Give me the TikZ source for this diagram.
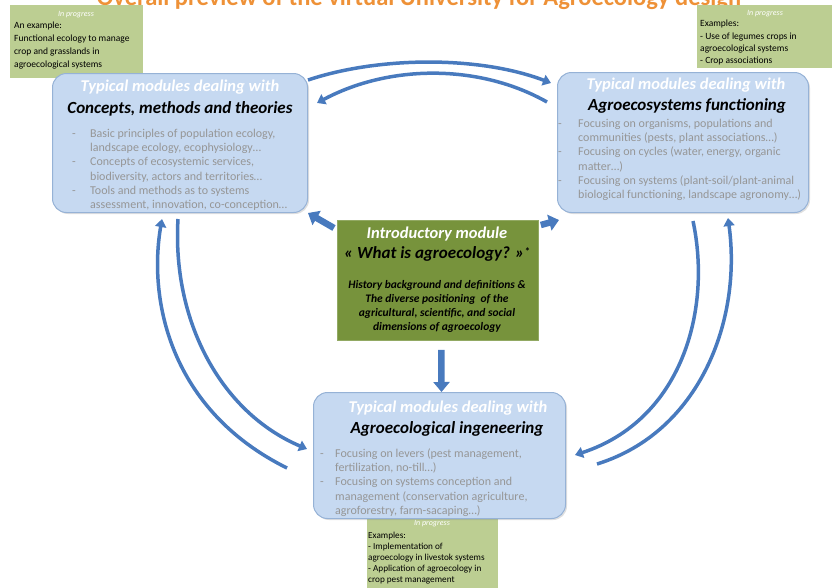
\documentclass[tikz,border=0pt]{standalone}
\usepackage{fontspec}
\setmainfont{Carlito}
\usetikzlibrary{arrows.meta,shadows}
\definecolor{boxblue}{RGB}{198,217,241}
\definecolor{boxblueedge}{RGB}{150,178,214}
\definecolor{lightgreen}{RGB}{188,206,146}
\definecolor{darkgreen}{RGB}{119,147,60}
\definecolor{arrowblue}{RGB}{72,122,190}
\definecolor{titleorange}{RGB}{238,145,55}
\definecolor{bulletgray}{RGB}{150,150,150}
\begin{document}
\begin{tikzpicture}[x=1pt,y=-1pt,
  bluebox/.style={draw=boxblueedge, fill=boxblue, rounded corners=14pt, line width=1pt,
    inner sep=0pt, anchor=north west,
    drop shadow={shadow xshift=1.5pt,shadow yshift=-1.5pt,opacity=0.25}},
  greenbox/.style={fill=lightgreen, inner sep=0pt, anchor=north west},
  centerbox/.style={fill=darkgreen, draw=darkgreen!80!white, line width=0.8pt, inner sep=0pt, anchor=north west},
  headw/.style={text=white, font=\fontsize{16.5}{19}\selectfont\bfseries\itshape, inner sep=0pt},
  headb/.style={text=black, font=\fontsize{17}{20}\selectfont\bfseries\itshape, inner sep=0pt},
  bullets/.style={inner sep=0pt, anchor=north west, text=bulletgray, font=\fontsize{12}{14.3}\selectfont},
  progress/.style={text=white, font=\fontsize{8}{9}\selectfont\itshape, inner sep=0pt},
  gtext/.style={inner sep=0pt, anchor=north west, align=left, text=black},
  curvarrow/.style={draw=arrowblue, line width=3.5pt, -{Triangle[width=11pt,length=8pt]}},
  blockarrow/.style={draw=arrowblue, line width=6.5pt, -{Triangle[width=16pt,length=10pt]}}
]
\clip (0,0) rectangle (833,587);
\useasboundingbox (0,0) rectangle (833,587);

% title (cut at top, as in the reference)
\node[anchor=base, text=titleorange, font=\fontsize{24.5}{28}\selectfont\bfseries, inner sep=0pt] (title) at (419,5)
  {Overall preview of the virtual University for Agroecology design};

% green "in progress" boxes
\node[greenbox, minimum width=133pt, minimum height=73pt] (GL) at (10,5) {};
\node[progress] (GLp) at (76,15) {In progress};
\node[gtext, font=\fontsize{9.5}{13}\selectfont] (GLt) at (14,22)
  {An example:\\Functional ecology to manage\\crop and grasslands in\\agroecological systems};

\node[greenbox, minimum width=135pt, minimum height=63pt] (GR) at (697,5) {};
\node[progress] (GRp) at (765,14) {In progress};
\node[gtext, font=\fontsize{9.5}{12.4}\selectfont] (GRt) at (700,20)
  {Examples:\\- Use of legumes crops in\\agroecological systems\\- Crop associations};

\node[greenbox, minimum width=131pt, minimum height=82pt] (GB) at (367,508) {};
\node[progress] (GBp) at (432,524) {In progress};
\node[gtext, font=\fontsize{9.2}{11}\selectfont] (GBt) at (368,532)
  {Examples:\\- Implementation of\\agroecology in livestok systems\\- Application of agroecology in\\crop pest management};

% named end points of the curved arrows
\coordinate (t1s) at (308,80);  \coordinate (t1e) at (551,83);
\coordinate (t2s) at (547,102); \coordinate (t2e) at (317,103);
\coordinate (l1s) at (287,468); \coordinate (l1e) at (162,219);
\coordinate (l2s) at (178,219); \coordinate (l2e) at (307,449);
\coordinate (r1s) at (693,221); \coordinate (r1e) at (575,455);
\coordinate (r2s) at (597,464); \coordinate (r2e) at (728,218);

\draw[curvarrow] (t1s) .. controls (380,56) and (480,56) .. (t1e);
\draw[curvarrow] (t2s) .. controls (480,64) and (390,64) .. (t2e);
\draw[curvarrow] (l1s) .. controls (170,410) and (148,300) .. (l1e);
\draw[curvarrow] (l2s) .. controls (172,320) and (220,412) .. (l2e);
\draw[curvarrow] (r1s) .. controls (712,310) and (682,420) .. (r1e);
\draw[curvarrow] (r2s) .. controls (700,432) and (742,320) .. (r2e);

% blue module boxes
\node[bluebox, minimum width=255pt, minimum height=139pt] (L) at (52,73) {};
\node[bluebox, minimum width=251pt, minimum height=140pt] (R) at (557,72) {};
\node[bluebox, minimum width=252pt, minimum height=126pt] (B) at (313,392) {};

\node[headw] (Lh1) at (180,87) {Typical modules dealing with};
\node[headb] (Lh2) at (180,109) {Concepts, methods and theories};
\node[bullets] (Lb) at (72,127) {\begin{tabular}{@{}p{18pt}@{}l@{}}
- & Basic principles of population ecology,\\
  & landscape ecology, ecophysiology\dots\\
- & Concepts of ecosystemic services,\\
  & biodiversity, actors and territories\dots\\
- & Tools and methods as to systems\\
  & assessment, innovation, co-conception\dots
\end{tabular}};

\node[headw] (Rh1) at (686,85) {Typical modules dealing with};
\node[headb] (Rh2) at (687,106) {Agroecosystems functioning};
\node[bullets] (Rb) at (558,117) {\begin{tabular}{@{}p{20pt}@{}l@{}}
- & Focusing on organisms, populations and\\
  & communities (pests, plant associations\dots)\\
- & Focusing on cycles (water, energy, organic\\
  & matter\dots)\\
- & Focusing on systems (plant-soil/plant-animal\\
  & biological functioning, landscape agronomy\dots)
\end{tabular}};

\node[headw] (Bh1) at (448,408) {Typical modules dealing with};
\node[headb] (Bh2) at (447,429) {Agroecological ingeneering};
\node[bullets] (Bb) at (320,447) {\begin{tabular}{@{}p{15pt}@{}l@{}}
- & Focusing on levers (pest management,\\
  & fertilization, no-till\dots)\\
- & Focusing on systems conception and\\
  & management (conservation agriculture,\\
  & agroforestry, farm-sacaping\dots)
\end{tabular}};

% introductory module
\node[centerbox, minimum width=201pt, minimum height=120pt] (C) at (337,220) {};
\node[headw] (Ch1) at (437,234) {Introductory module};
\node[headb] (Ch2) at (437,254) {« What is agroecology? »\raisebox{3pt}{\fontsize{11}{12}\selectfont*}};
\node[inner sep=0pt, align=center, font=\fontsize{11.5}{14}\selectfont\bfseries\itshape] (Ct) at (437,306)
  {History background and definitions \&\\The diverse positioning\ \ of the\\agricultural, scientific, and social\\dimensions of agroecology};

% straight arrows from the introductory module
\draw[blockarrow] (C.north west) ++(-3,8) -- (L.south east);
\draw[blockarrow] (C.north east) ++(2,5) -- ([xshift=2pt,yshift=-7pt]R.south west);
\draw[blockarrow] ([xshift=3.5pt]C.south) ++(0,9) -- ([xshift=2pt]B.north);
\end{tikzpicture}
\end{document}
